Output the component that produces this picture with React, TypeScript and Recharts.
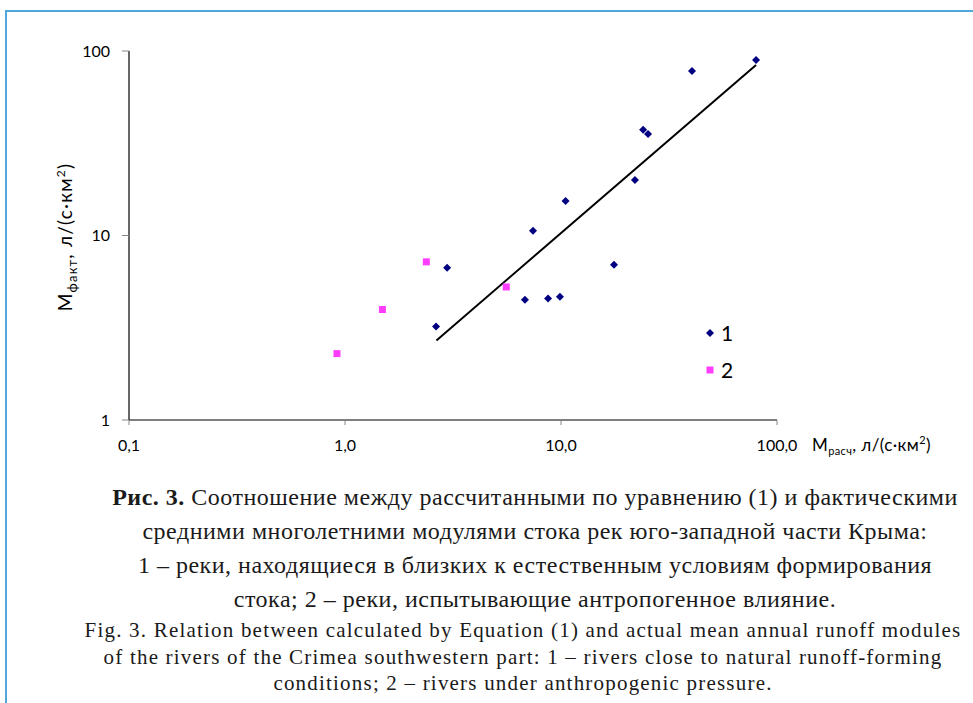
import React from "react";
import { ScatterChart, Scatter, XAxis, YAxis } from "recharts";

// series 1: rivers close to natural conditions
const naturalCalc = [80.0, 40.4, 24.0, 25.3, 22.0, 10.5, 7.42, 17.6, 2.97, 6.81, 8.71, 9.89, 2.64];
const naturalFact = [89.4, 78.0, 37.4, 35.5, 20.0, 15.4, 10.6, 6.94, 6.69, 4.48, 4.55, 4.66, 3.21];

// series 2: rivers under anthropogenic pressure
const anthroCalc = [2.38, 5.58, 1.49, 0.918];
const anthroFact = [7.2, 5.26, 3.97, 2.29];

// trend line end points
const trendCalc = [2.65, 80];
const trendFact = [2.7, 84];

const xTicks = [0.1, 1, 10, 100];
const yTicks = [1, 10, 100];
const legendLabels = ["1", "2"];

const BLUE = "#000080";
const PINK = "#FF3DFF";
const TICK_FONT = "Lato, 'Liberation Sans', sans-serif";

const toPoints = (xs: number[], ys: number[]) => xs.map((x, i) => ({ x, y: ys[i] }));

const naturalData = toPoints(naturalCalc, naturalFact);
const anthroData = toPoints(anthroCalc, anthroFact);
const trendData = toPoints(trendCalc, trendFact);

const Diamond = (props: any) => {
  const { cx, cy } = props;
  const r = 4;
  return (
    <polygon
      points={`${cx},${cy - r} ${cx + r},${cy} ${cx},${cy + r} ${cx - r},${cy}`}
      fill={BLUE}
    />
  );
};

const Square = (props: any) => {
  const { cx, cy } = props;
  return <rect x={cx - 3.5} y={cy - 3.5} width={7} height={7} fill={PINK} />;
};

const YLabel = () => (
  <text
    transform="translate(72,237) rotate(-90)"
    textAnchor="middle"
    fontFamily={TICK_FONT}
    fontSize={19}
    letterSpacing={1.2}
    fill="#000"
  >
    <tspan>M</tspan>
    <tspan fontSize={13} dy={5}>факт</tspan>
    <tspan dy={-5}>, л/(с·км</tspan>
    <tspan fontSize={12} dy={-7}>2</tspan>
    <tspan dy={7}>)</tspan>
  </text>
);

const XLabel = () => (
  <text x={812} y={451} fontFamily={TICK_FONT} fontSize={17} letterSpacing={0.4} fill="#000">
    <tspan>M</tspan>
    <tspan fontSize={11} dy={4}>расч</tspan>
    <tspan dy={-4}>, л/(с·км</tspan>
    <tspan fontSize={11} dy={-7}>2</tspan>
    <tspan dy={7}>)</tspan>
  </text>
);

const fmtX = (v: number) => v.toFixed(1).replace(".", ",");

export default function App() {
  return (
    <div
      style={{
        position: "absolute",
        left: 0,
        top: 0,
        width: 973,
        height: 703,
        background: "#fff",
        overflow: "hidden",
      }}
    >
      <div
        style={{
          position: "absolute",
          left: 5,
          top: 10,
          width: 1000,
          height: 720,
          borderTop: "2px solid #4fa7da",
          borderLeft: "2px solid #4fa7da",
        }}
      />
      <div style={{ position: "absolute", left: 0, top: 0 }}>
        <ScatterChart
          width={973}
          height={465}
          margin={{ top: 51, right: 196, left: 69, bottom: 15 }}
        >
          <XAxis
            type="number"
            dataKey="x"
            scale="log"
            domain={[0.1, 100]}
            ticks={xTicks}
            allowDataOverflow
            tickFormatter={fmtX}
            height={30}
            tickSize={5}
            tickMargin={15}
            axisLine={{ stroke: "#000", strokeWidth: 1.2 }}
            tickLine={{ stroke: "#868686" }}
            tick={{ fill: "#000", fontSize: 16, fontFamily: TICK_FONT }}
            label={{ content: XLabel }}
          />
          <YAxis
            type="number"
            dataKey="y"
            scale="log"
            domain={[1, 100]}
            ticks={yTicks}
            allowDataOverflow
            width={60}
            tickSize={7}
            tickMargin={12}
            axisLine={{ stroke: "#000", strokeWidth: 1.2 }}
            tickLine={{ stroke: "#868686" }}
            tick={{ fill: "#000", fontSize: 16, fontFamily: TICK_FONT }}
            label={{ content: YLabel }}
          />
          <Scatter
            name="trend"
            data={trendData}
            line={{ stroke: "#000", strokeWidth: 2 }}
            shape={() => <g />}
            legendType="none"
            isAnimationActive={false}
          />
          <Scatter name="1" data={naturalData} shape={Diamond} isAnimationActive={false} />
          <Scatter name="2" data={anthroData} shape={Square} isAnimationActive={false} />
        </ScatterChart>
      </div>
      {/* legend */}
      <div
        style={{
          position: "absolute",
          left: 704,
          top: 314,
          fontFamily: TICK_FONT,
          fontSize: 21,
          color: "#000",
        }}
      >
        {legendLabels.map((label, i) => (
          <div key={label} style={{ display: "flex", alignItems: "center", height: 37 }}>
            <svg width={12} height={12} style={{ marginRight: 5 }}>
              {i === 0 ? (
                <polygon points="6,2 10,6 6,10 2,6" fill={BLUE} />
              ) : (
                <rect x={2.5} y={2.5} width={7} height={7} fill={PINK} />
              )}
            </svg>
            <span>{label}</span>
          </div>
        ))}
      </div>
      <div
        style={{
          position: "absolute",
          left: 100,
          top: 480,
          width: 870,
          textAlign: "center",
          whiteSpace: "nowrap",
          fontFamily: "'Liberation Serif', serif",
          color: "#1a1a1a",
        }}
      >
        <div style={{ fontSize: 24, lineHeight: "34px", letterSpacing: 0.5 }}>
          <b>Рис. 3.</b> Соотношение между рассчитанными по уравнению (1) и фактическими
          <br />
          средними многолетними модулями стока рек юго-западной части Крыма:
          <br />
          1 – реки, находящиеся в близких к естественным условиям формирования
          <br />
          стока; 2 – реки, испытывающие антропогенное влияние.
        </div>
        <div
          style={{
            fontSize: 21,
            lineHeight: "26.5px",
            letterSpacing: 1.2,
            marginTop: 1,
            marginLeft: -24,
          }}
        >
          Fig. 3. Relation between calculated by Equation (1) and actual mean annual runoff modules
          <br />
          of the rivers of the Crimea southwestern part: 1 – rivers close to natural runoff-forming
          <br />
          conditions; 2 – rivers under anthropogenic pressure.
        </div>
      </div>
    </div>
  );
}
